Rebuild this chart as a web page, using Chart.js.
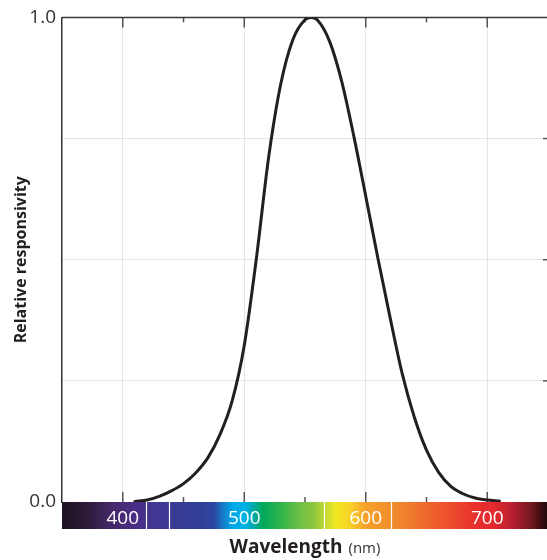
<!DOCTYPE html>
<html>
<head>
<meta charset="utf-8">
<script src="https://cdn.jsdelivr.net/npm/chart.js@4"></script>
<style>
  html, body { margin: 0; padding: 0; background: #fff; overflow: hidden; }
</style>
</head>
<body>
<canvas id="responsivityChart" width="548" height="560"></canvas>
<script>
// photopic curve (nm -> relative responsivity)
const wavelengths = [410, 420, 430, 440, 450, 460, 470, 480, 490, 500, 510, 520, 530, 540, 550, 555,
                     560, 570, 580, 590, 600, 610, 620, 630, 640, 650, 660, 670, 680, 690, 700, 710];
const responsivity = [0.0012, 0.004, 0.0116, 0.023, 0.038, 0.06, 0.091, 0.139, 0.208, 0.323, 0.503, 0.71,
                      0.862, 0.954, 0.995, 1.0, 0.995, 0.952, 0.87, 0.757, 0.631, 0.503, 0.381, 0.265,
                      0.175, 0.107, 0.061, 0.032, 0.017, 0.0082, 0.0041, 0.0021];

const xLabels = [400, 500, 600, 700];
const xMinorTicks = [450, 550, 650];
const yLabels = { 0: '0.0', 1: '1.0' };

// colour band under the axis
const spectrumStops = [350, 370, 390, 410, 430, 460, 475, 482, 490, 500, 507, 515, 530, 545, 557, 566,
                       576, 588, 600, 625, 660, 690, 705, 722, 737, 750];
const spectrumColors = ['#1d1320', '#2c1a38', '#432866', '#4a2d86', '#3f3894', '#313d97', '#2c46a0', '#1a78c6',
                        '#00a6e6', '#00b2e8', '#00aab0', '#00a85a', '#2fb34a', '#6cbf47', '#8dc63f', '#bfd733',
                        '#f3e822', '#f8cf2a', '#f6a12a', '#f08a2c', '#ee5a2c', '#e8302d', '#e42a2f', '#b21f2f',
                        '#6e161c', '#1c0608'];
const spectrumCuts = [419, 438, 566, 621];

Chart.defaults.font.family = "'Open Sans', sans-serif";

const spectrumPlugin = {
    id: 'spectrum',
    beforeDraw(chart) {
        const { ctx, chartArea, scales: { x } } = chart;
        const top = chartArea.bottom;
        const h = 27;
        const grad = ctx.createLinearGradient(x.left, 0, x.right, 0);
        spectrumStops.forEach((nm, i) => {
            grad.addColorStop((x.getPixelForValue(nm) - x.left) / (x.right - x.left), spectrumColors[i]);
        });
        ctx.save();
        ctx.fillStyle = grad;
        ctx.fillRect(x.left, top, x.right - x.left, h);
        ctx.strokeStyle = '#fff';
        ctx.lineWidth = 1.2;
        spectrumCuts.forEach(nm => {
            const px = Math.round(x.getPixelForValue(nm)) + 0.5;
            ctx.beginPath();
            ctx.moveTo(px, top);
            ctx.lineTo(px, top + h);
            ctx.stroke();
        });
        ctx.restore();
    },
    beforeDatasetsDraw(chart) {
        const { ctx, chartArea, scales: { x, y } } = chart;
        ctx.save();
        ctx.strokeStyle = '#555';
        ctx.lineWidth = 1.5;
        const tick = (x1, y1, x2, y2) => {
            ctx.beginPath();
            ctx.moveTo(x1, y1);
            ctx.lineTo(x2, y2);
            ctx.stroke();
        };
        xLabels.forEach(v => {
            const px = x.getPixelForValue(v);
            tick(px, chartArea.top, px, chartArea.top + 10);
            tick(px, chartArea.bottom, px, chartArea.bottom - 10);
        });
        xMinorTicks.forEach(v => {
            const px = x.getPixelForValue(v);
            tick(px, chartArea.top, px, chartArea.top + 5);
            tick(px, chartArea.bottom, px, chartArea.bottom - 5);
        });
        [0.25, 0.5, 0.75].forEach(v => {
            const py = y.getPixelForValue(v);
            tick(chartArea.right, py, chartArea.right - 5, py);
        });
        // top frame
        ctx.strokeStyle = '#3a3a3a';
        tick(chartArea.left, chartArea.top, chartArea.right, chartArea.top);
        ctx.restore();
    },
    afterDraw(chart) {
        const { ctx, chartArea } = chart;
        const cx = (chartArea.left + chartArea.right) / 2;
        const base = 553;
        ctx.save();
        ctx.fillStyle = '#231f20';
        ctx.textBaseline = 'alphabetic';
        ctx.font = "bold 19px 'Open Sans', sans-serif";
        const main = 'Wavelength';
        const w1 = ctx.measureText(main).width;
        ctx.font = "15px 'Open Sans', sans-serif";
        const unit = '(nm)';
        const w2 = ctx.measureText(unit).width;
        const gap = 6;
        const start = cx - (w1 + gap + w2) / 2;
        ctx.font = "bold 19px 'Open Sans', sans-serif";
        ctx.fillText(main, start, base);
        ctx.font = "15px 'Open Sans', sans-serif";
        ctx.fillStyle = '#333';
        ctx.fillText(unit, start + w1 + gap, base);
        ctx.restore();
    }
};

const ctx = document.getElementById('responsivityChart').getContext('2d');
new Chart(ctx, {
    type: 'line',
    data: {
        datasets: [{
            data: wavelengths.map((w, i) => ({ x: w, y: responsivity[i] })),
            borderColor: '#231f20',
            borderWidth: 3,
            pointRadius: 0,
            cubicInterpolationMode: 'monotone',
            borderCapStyle: 'round',
            fill: false
        }]
    },
    options: {
        responsive: false,
        animation: false,
        layout: { padding: { top: 16, right: 0, left: 0, bottom: 0 } },
        plugins: {
            legend: { display: false },
            tooltip: { enabled: false }
        },
        scales: {
            x: {
                type: 'linear',
                min: 350,
                max: 750,
                afterBuildTicks: scale => { scale.ticks = xLabels.map(v => ({ value: v })); },
                afterFit: scale => { scale.height = 58; },
                grid: { color: '#e4e4e4', drawTicks: false },
                border: { display: false },
                ticks: {
                    color: '#ffffff',
                    font: { size: 19 },
                    padding: 5,
                    maxRotation: 0
                }
            },
            y: {
                min: 0,
                max: 1,
                afterFit: scale => { scale.width = 62; },
                grid: {
                    color: c => (c.tick.value === 0 || c.tick.value === 1) ? 'rgba(0,0,0,0)' : '#e4e4e4',
                    drawTicks: false
                },
                border: { display: true, color: '#333', width: 1.5 },
                ticks: {
                    stepSize: 0.25,
                    color: '#333',
                    font: { size: 19 },
                    padding: 6,
                    callback: v => yLabels[v] || ''
                },
                title: {
                    display: true,
                    text: 'Relative responsivity',
                    color: '#231f20',
                    font: { size: 16, weight: 'bold' },
                    padding: { top: 12, bottom: 0 }
                }
            }
        }
    },
    plugins: [spectrumPlugin]
});
</script>
</body>
</html>
